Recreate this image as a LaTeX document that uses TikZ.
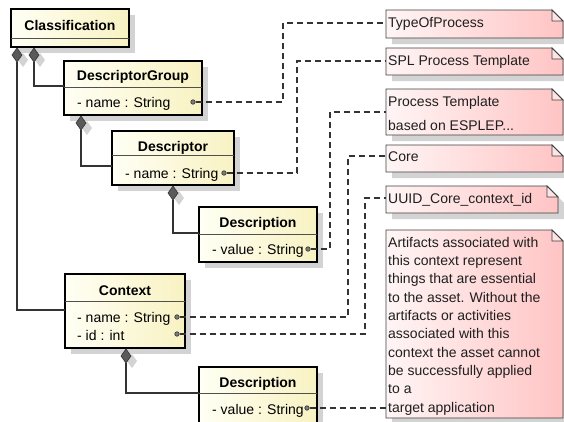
\documentclass[tikz,border=0pt]{standalone}
\usepackage{fontspec}
\setmainfont{Liberation Sans}
\usetikzlibrary{shapes.geometric,shadows}
\pgfdeclarelayer{bg}
\pgfsetlayers{bg,main}
\definecolor{clsL}{HTML}{FFFFF4}
\definecolor{clsR}{HTML}{F8F2C2}
\definecolor{noteL}{HTML}{FFF5F5}
\definecolor{noteR}{HTML}{FFC4C4}
\definecolor{notefoldc}{HTML}{FFE4E4}
\definecolor{boxsh}{HTML}{D3D3D3}
\definecolor{linesh}{HTML}{DDDDDD}
\definecolor{ink}{HTML}{333333}
\definecolor{noteline}{HTML}{404040}
\definecolor{diafill}{HTML}{5A5A5A}
\definecolor{divline}{HTML}{505050}
\definecolor{dotfill}{HTML}{7A7A7A}
\newcommand\linkpath[2]{%
  \begin{pgfonlayer}{bg}
    \draw[lineshadow, transform canvas={shift={(6,5)}}] #2;
  \end{pgfonlayer}
  \draw[#1] #2;}
\newcommand\noteshape[1]{%
  \path[fill=boxsh, transform canvas={shift={(6,6)}}] (#1.north west) -- ([xshift=-11pt]#1.north east) -- ([yshift=-11pt]#1.north east) -- (#1.south east) -- (#1.south west) -- cycle;
  \path[notebody] (#1.north west) -- ([xshift=-11pt]#1.north east) -- ([yshift=-11pt]#1.north east) -- (#1.south east) -- (#1.south west) -- cycle;
  \filldraw[notefold] ([xshift=-11pt]#1.north east) -- ([xshift=-11pt,yshift=-11pt]#1.north east) -- ([yshift=-11pt]#1.north east) -- cycle;}
\tikzset{
  cls/.style={rectangle, draw=black, line width=2.2pt, left color=clsL, right color=clsR,
    anchor=north west, inner sep=0pt, outer sep=0pt,
    drop shadow={shadow xshift=6pt, shadow yshift=-6pt, fill=boxsh, opacity=1}},
  ttl/.style={anchor=base, inner sep=0pt, font=\bfseries\fontsize{14}{17}\selectfont},
  attr/.style={anchor=base west, inner sep=0pt, font=\fontsize{14}{17}\selectfont},
  divider/.style={draw=divline, line width=0.8pt},
  dot/.style={circle, draw=ink, fill=dotfill, line width=0.6pt, minimum size=4.5pt, inner sep=0pt},
  dia/.style={diamond, draw=ink, fill=diafill, line width=0.6pt, minimum width=10pt, minimum height=14pt,
    inner sep=0pt, outer sep=0pt, anchor=north,
    drop shadow={shadow xshift=6pt, shadow yshift=-5pt, fill=boxsh, opacity=1}},
  notebox/.style={rectangle, inner sep=0pt, outer sep=0pt, anchor=north west},
  notebody/.style={draw=noteline, line width=0.9pt, left color=noteL, right color=noteR},
  notefold/.style={draw=noteline, line width=0.9pt, fill=notefoldc},
  ntext/.style={anchor=base west, inner sep=0pt, text=black!88, font=\fontsize{14}{17}\selectfont},
  nblock/.style={anchor=north west, inner sep=0pt, align=left, text=black!88},
  dep/.style={draw=ink, line width=1.1pt, dash pattern=on 6pt off 4pt},
  comp/.style={draw=ink, line width=1.1pt},
  lineshadow/.style={draw=linesh, line width=1pt, solid}
}
\begin{document}
\begin{tikzpicture}[x=1pt, y=-1pt]
\useasboundingbox (0,0) rectangle (564,421);
\clip (0,0) rectangle (564,421);
\fill[white] (0,0) rectangle (564,421);

% ---------- classes ----------
\node[cls, minimum width=118pt, minimum height=38pt] (cl) at (11,9) {};
\node[ttl] (clT) at (70,30) {Classification};
\draw[divider] (cl.west |- 0,38) -- (cl.east |- 0,38);

\node[cls, minimum width=138pt, minimum height=54pt] (dg) at (64,61) {};
\node[ttl] (dgT) at (133,80) {DescriptorGroup};
\draw[divider] (dg.west |- 0,87) -- (dg.east |- 0,87);
\node[attr] (dgA) at (77,107) {- name : String};
\node[dot] (dgdot) at (193,102) {};

\node[cls, minimum width=122pt, minimum height=54pt] (ds) at (112,131) {};
\node[ttl] (dsT) at (173,151) {Descriptor};
\draw[divider] (ds.west |- 0,155) -- (ds.east |- 0,155);
\node[attr] (dsA) at (125,178) {- name : String};
\node[dot] (dsdot) at (224,173) {};

\node[cls, minimum width=118pt, minimum height=55pt] (d1) at (199,207) {};
\node[ttl] (d1T) at (258,227) {Description};
\draw[divider] (d1.west |- 0,234) -- (d1.east |- 0,234);
\node[attr] (d1A) at (212,254) {- value : String};
\node[dot] (d1dot) at (308,249) {};

\node[cls, minimum width=120pt, minimum height=74pt] (ctx) at (65,274) {};
\node[ttl] (ctxT) at (125,295) {Context};
\draw[divider] (ctx.west |- 0,301) -- (ctx.east |- 0,301);
\node[attr] (ctxA) at (77,322) {- name : String};
\node[attr] (ctxB) at (77,340) {- id : int};
\node[dot] (ctxn) at (177,317) {};
\node[dot] (ctxi) at (177,334) {};

\node[cls, minimum width=118pt, minimum height=70pt] (d2) at (199,367) {};
\node[ttl] (d2T) at (258,387) {Description};
\draw[divider] (d2.west |- 0,393) -- (d2.east |- 0,393);
\node[attr] (d2A) at (212,414) {- value : String};
\node[dot] (d2dot) at (307,408) {};

% ---------- diamonds ----------
\node[dia] (dA) at (17,48) {};
\node[dia] (dB) at (34,48) {};
\node[dia] (dC) at (81,116) {};
\node[dia] (dD) at (173,186) {};
\node[dia] (dE) at (126,349) {};

% ---------- notes ----------
\node[notebox, minimum width=177pt, minimum height=28pt] (n1) at (386,10) {};
\noteshape{n1}
\node[ntext] (n1t) at (388,27) {TypeOfProcess};

\node[notebox, minimum width=177pt, minimum height=27pt] (n2) at (386,48) {};
\noteshape{n2}
\node[ntext] (n2t) at (388,65) {SPL Process Template};

\node[notebox, minimum width=177pt, minimum height=46pt] (n3) at (386,89) {};
\noteshape{n3}
\node[nblock, font=\fontsize{14}{24}\selectfont] (n3t) at (388,96) {Process Template\\based on ESPLEP...};

\node[notebox, minimum width=177pt, minimum height=27pt] (n4) at (386,145) {};
\noteshape{n4}
\node[ntext] (n4t) at (388,161) {Core};

\node[notebox, minimum width=172pt, minimum height=27pt] (n5) at (386,186) {};
\noteshape{n5}
\node[ntext] (n5t) at (388,203) {UUID\_Core\_context\_id};

\node[notebox, minimum width=177pt, minimum height=188pt] (n6) at (386,230) {};
\noteshape{n6}
\node[nblock, font=\fontsize{14}{18.3}\selectfont] (n6t) at (388,237) {Artifacts associated with\\this context represent\\things that are essential\\to the asset. Without the\\artifacts or activities\\associated with this\\context the asset cannot\\be successfully applied\\to a\\target application};

% ---------- corner points ----------
\coordinate (k1) at (283,23);
\coordinate (k2) at (297,61);
\coordinate (k3) at (330,112);
\coordinate (k4) at (348,156);
\coordinate (k5) at (365,198);

% ---------- compositions ----------
\linkpath{comp}{(dA.south) |- (ctx.west |- 0,310)}
\linkpath{comp}{(dB.south) |- (dg.west |- 0,86)}
\linkpath{comp}{(dC.south) |- (ds.west |- 0,166)}
\linkpath{comp}{(dD.south) |- (d1.west |- 0,233)}
\linkpath{comp}{(dE.south) |- (d2.west |- 0,393)}

% ---------- note links ----------
\linkpath{dep}{(dgdot) -| (k1) -- (k1 -| n1.west)}
\linkpath{dep}{(dsdot) -| (k2) -- (k2 -| n2.west)}
\linkpath{dep}{(d1dot) -| (k3) -- (k3 -| n3.west)}
\linkpath{dep}{(ctxn) -| (k4) -- (k4 -| n4.west)}
\linkpath{dep}{(ctxi) -| (k5) -- (k5 -| n5.west)}
\linkpath{dep}{(d2dot) -- (d2dot -| n6.west)}
\end{tikzpicture}
\end{document}
